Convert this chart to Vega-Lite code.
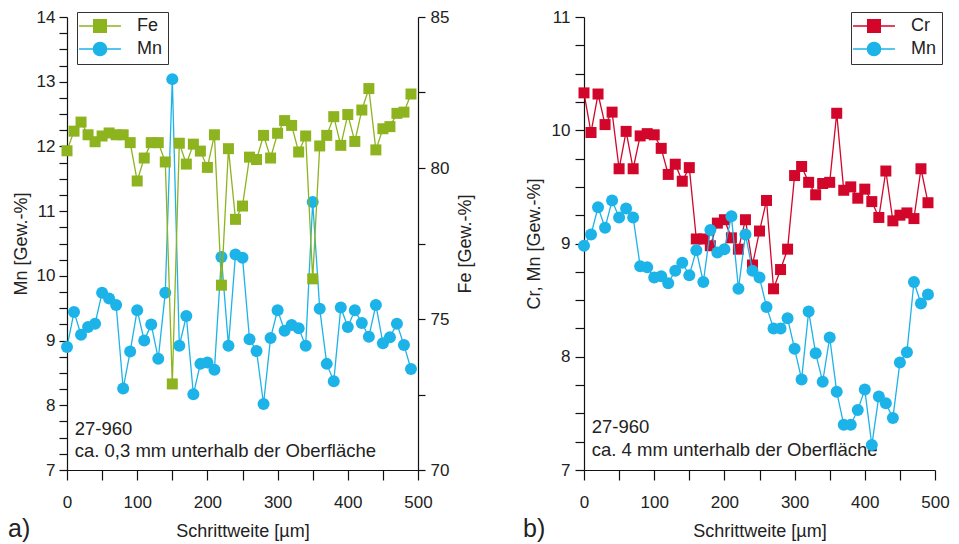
{
  "$schema": "https://vega.github.io/schema/vega-lite/v6.json",
  "padding": {"left": 8, "top": 8, "right": 5, "bottom": 5},
  "background": "white",
  "datasets": {
    "a": [
      {"x":0,"s":"Fe","v":80.57},{"x":10,"s":"Fe","v":81.22},{"x":20,"s":"Fe","v":81.52},{"x":30,"s":"Fe","v":81.10},{"x":40,"s":"Fe","v":80.87},
      {"x":50,"s":"Fe","v":81.06},{"x":60,"s":"Fe","v":81.16},{"x":70,"s":"Fe","v":81.10},{"x":80,"s":"Fe","v":81.10},{"x":90,"s":"Fe","v":80.84},
      {"x":100,"s":"Fe","v":79.57},{"x":110,"s":"Fe","v":80.33},{"x":120,"s":"Fe","v":80.84},{"x":130,"s":"Fe","v":80.84},{"x":140,"s":"Fe","v":80.20},
      {"x":150,"s":"Fe","v":72.85},{"x":160,"s":"Fe","v":80.82},{"x":170,"s":"Fe","v":80.13},{"x":180,"s":"Fe","v":80.79},{"x":190,"s":"Fe","v":80.56},
      {"x":200,"s":"Fe","v":80.02},{"x":210,"s":"Fe","v":81.10},{"x":220,"s":"Fe","v":76.12},{"x":230,"s":"Fe","v":80.64},{"x":240,"s":"Fe","v":78.30},
      {"x":250,"s":"Fe","v":78.74},{"x":260,"s":"Fe","v":80.36},{"x":270,"s":"Fe","v":80.28},{"x":280,"s":"Fe","v":81.08},{"x":290,"s":"Fe","v":80.33},
      {"x":300,"s":"Fe","v":81.15},{"x":310,"s":"Fe","v":81.57},{"x":320,"s":"Fe","v":81.41},{"x":330,"s":"Fe","v":80.53},{"x":340,"s":"Fe","v":81.06},
      {"x":350,"s":"Fe","v":76.33},{"x":360,"s":"Fe","v":80.73},{"x":370,"s":"Fe","v":81.08},{"x":380,"s":"Fe","v":81.70},{"x":390,"s":"Fe","v":80.75},
      {"x":400,"s":"Fe","v":81.77},{"x":410,"s":"Fe","v":80.88},{"x":420,"s":"Fe","v":81.92},{"x":430,"s":"Fe","v":82.63},{"x":440,"s":"Fe","v":80.60},
      {"x":450,"s":"Fe","v":81.30},{"x":460,"s":"Fe","v":81.37},{"x":470,"s":"Fe","v":81.81},{"x":480,"s":"Fe","v":81.85},{"x":490,"s":"Fe","v":82.45},
      {"x":0,"s":"Mn","v":8.90},{"x":10,"s":"Mn","v":9.44},{"x":20,"s":"Mn","v":9.09},{"x":30,"s":"Mn","v":9.21},{"x":40,"s":"Mn","v":9.26},
      {"x":50,"s":"Mn","v":9.74},{"x":60,"s":"Mn","v":9.65},{"x":70,"s":"Mn","v":9.55},{"x":80,"s":"Mn","v":8.26},{"x":90,"s":"Mn","v":8.83},
      {"x":100,"s":"Mn","v":9.47},{"x":110,"s":"Mn","v":9.00},{"x":120,"s":"Mn","v":9.25},{"x":130,"s":"Mn","v":8.72},{"x":140,"s":"Mn","v":9.74},
      {"x":150,"s":"Mn","v":13.04},{"x":160,"s":"Mn","v":8.92},{"x":170,"s":"Mn","v":9.38},{"x":180,"s":"Mn","v":8.17},{"x":190,"s":"Mn","v":8.64},
      {"x":200,"s":"Mn","v":8.66},{"x":210,"s":"Mn","v":8.55},{"x":220,"s":"Mn","v":10.29},{"x":230,"s":"Mn","v":8.92},{"x":240,"s":"Mn","v":10.33},
      {"x":250,"s":"Mn","v":10.28},{"x":260,"s":"Mn","v":9.02},{"x":270,"s":"Mn","v":8.84},{"x":280,"s":"Mn","v":8.02},{"x":290,"s":"Mn","v":9.04},
      {"x":300,"s":"Mn","v":9.47},{"x":310,"s":"Mn","v":9.15},{"x":320,"s":"Mn","v":9.24},{"x":330,"s":"Mn","v":9.19},{"x":340,"s":"Mn","v":8.92},
      {"x":350,"s":"Mn","v":11.14},{"x":360,"s":"Mn","v":9.49},{"x":370,"s":"Mn","v":8.64},{"x":380,"s":"Mn","v":8.37},{"x":390,"s":"Mn","v":9.51},
      {"x":400,"s":"Mn","v":9.21},{"x":410,"s":"Mn","v":9.47},{"x":420,"s":"Mn","v":9.27},{"x":430,"s":"Mn","v":9.06},{"x":440,"s":"Mn","v":9.55},
      {"x":450,"s":"Mn","v":8.96},{"x":460,"s":"Mn","v":9.05},{"x":470,"s":"Mn","v":9.26},{"x":480,"s":"Mn","v":8.93},{"x":490,"s":"Mn","v":8.56}
    ],
    "b": [
      {"x":0,"s":"Cr","v":10.33},{"x":10,"s":"Cr","v":9.98},{"x":20,"s":"Cr","v":10.32},{"x":30,"s":"Cr","v":10.05},{"x":40,"s":"Cr","v":10.16},
      {"x":50,"s":"Cr","v":9.66},{"x":60,"s":"Cr","v":9.99},{"x":70,"s":"Cr","v":9.66},{"x":80,"s":"Cr","v":9.95},{"x":90,"s":"Cr","v":9.97},
      {"x":100,"s":"Cr","v":9.96},{"x":110,"s":"Cr","v":9.84},{"x":120,"s":"Cr","v":9.61},{"x":130,"s":"Cr","v":9.70},{"x":140,"s":"Cr","v":9.55},
      {"x":150,"s":"Cr","v":9.67},{"x":160,"s":"Cr","v":9.04},{"x":170,"s":"Cr","v":9.04},{"x":180,"s":"Cr","v":8.98},{"x":190,"s":"Cr","v":9.18},
      {"x":200,"s":"Cr","v":9.21},{"x":210,"s":"Cr","v":9.05},{"x":220,"s":"Cr","v":8.95},{"x":230,"s":"Cr","v":9.21},{"x":240,"s":"Cr","v":8.81},
      {"x":250,"s":"Cr","v":9.11},{"x":260,"s":"Cr","v":9.38},{"x":270,"s":"Cr","v":8.60},{"x":280,"s":"Cr","v":8.77},{"x":290,"s":"Cr","v":8.95},
      {"x":300,"s":"Cr","v":9.60},{"x":310,"s":"Cr","v":9.68},{"x":320,"s":"Cr","v":9.54},{"x":330,"s":"Cr","v":9.43},{"x":340,"s":"Cr","v":9.53},
      {"x":350,"s":"Cr","v":9.54},{"x":360,"s":"Cr","v":10.15},{"x":370,"s":"Cr","v":9.47},{"x":380,"s":"Cr","v":9.50},{"x":390,"s":"Cr","v":9.40},
      {"x":400,"s":"Cr","v":9.48},{"x":410,"s":"Cr","v":9.37},{"x":420,"s":"Cr","v":9.23},{"x":430,"s":"Cr","v":9.64},{"x":440,"s":"Cr","v":9.20},
      {"x":450,"s":"Cr","v":9.25},{"x":460,"s":"Cr","v":9.27},{"x":470,"s":"Cr","v":9.22},{"x":480,"s":"Cr","v":9.66},{"x":490,"s":"Cr","v":9.36},
      {"x":0,"s":"Mn","v":8.98},{"x":10,"s":"Mn","v":9.08},{"x":20,"s":"Mn","v":9.32},{"x":30,"s":"Mn","v":9.14},{"x":40,"s":"Mn","v":9.38},
      {"x":50,"s":"Mn","v":9.23},{"x":60,"s":"Mn","v":9.31},{"x":70,"s":"Mn","v":9.23},{"x":80,"s":"Mn","v":8.80},{"x":90,"s":"Mn","v":8.79},
      {"x":100,"s":"Mn","v":8.70},{"x":110,"s":"Mn","v":8.71},{"x":120,"s":"Mn","v":8.65},{"x":130,"s":"Mn","v":8.76},{"x":140,"s":"Mn","v":8.83},
      {"x":150,"s":"Mn","v":8.72},{"x":160,"s":"Mn","v":8.94},{"x":170,"s":"Mn","v":8.66},{"x":180,"s":"Mn","v":9.12},{"x":190,"s":"Mn","v":8.92},
      {"x":200,"s":"Mn","v":8.95},{"x":210,"s":"Mn","v":9.24},{"x":220,"s":"Mn","v":8.60},{"x":230,"s":"Mn","v":9.08},{"x":240,"s":"Mn","v":8.76},
      {"x":250,"s":"Mn","v":8.70},{"x":260,"s":"Mn","v":8.44},{"x":270,"s":"Mn","v":8.25},{"x":280,"s":"Mn","v":8.25},{"x":290,"s":"Mn","v":8.34},
      {"x":300,"s":"Mn","v":8.07},{"x":310,"s":"Mn","v":7.80},{"x":320,"s":"Mn","v":8.40},{"x":330,"s":"Mn","v":8.03},{"x":340,"s":"Mn","v":7.78},
      {"x":350,"s":"Mn","v":8.17},{"x":360,"s":"Mn","v":7.69},{"x":370,"s":"Mn","v":7.40},{"x":380,"s":"Mn","v":7.40},{"x":390,"s":"Mn","v":7.53},
      {"x":400,"s":"Mn","v":7.71},{"x":410,"s":"Mn","v":7.22},{"x":420,"s":"Mn","v":7.65},{"x":430,"s":"Mn","v":7.59},{"x":440,"s":"Mn","v":7.46},
      {"x":450,"s":"Mn","v":7.95},{"x":460,"s":"Mn","v":8.04},{"x":470,"s":"Mn","v":8.66},{"x":480,"s":"Mn","v":8.47},{"x":490,"s":"Mn","v":8.55}
    ]
  },
  "hconcat": [
    {
      "width": 351,
      "height": 453,
      "data": {"name": "a"},
      "title": {"text": "a)", "orient": "bottom", "anchor": "start", "fontSize": 25, "fontWeight": "normal", "color": "#222", "offset": -23, "dx": -4},
      "encoding": {
        "x": {
          "field": "x", "type": "quantitative",
          "scale": {"domain": [0, 500], "nice": false, "zero": false},
          "axis": {
            "title": "Schrittweite [µm]",
            "values": [0,50,100,150,200,250,300,350,400,450,500],
            "labelExpr": "datum.value % 100 === 0 ? format(datum.value, 'd') : ''",
            "tickSize": 10, "labelPadding": 14, "titlePadding": 12,
            "encode": {"ticks": {"update": {"y2": {"signal": "datum.value % 100 === 0 ? 10 : 6"}}}}
          }
        }
      },
      "layer": [
        {
          "transform": [{"filter": "datum.s === 'Mn'"}],
          "encoding": {
            "y": {
              "field": "v", "type": "quantitative",
              "scale": {"domain": [7, 14], "nice": false, "zero": false},
              "axis": {
                "title": "Mn [Gew.-%]", "orient": "left",
                "values": [7,7.25,7.5,7.75,8,8.25,8.5,8.75,9,9.25,9.5,9.75,10,10.25,10.5,10.75,11,11.25,11.5,11.75,12,12.25,12.5,12.75,13,13.25,13.5,13.75,14],
                "labelExpr": "datum.value % 1 === 0 ? format(datum.value, 'd') : ''",
                "tickSize": 8, "labelPadding": 4, "titlePadding": 6,
                "encode": {"ticks": {"update": {"x2": {"signal": "datum.value % 1 === 0 ? -8 : -4"}}}}
              }
            },
            "color": {
              "field": "s", "type": "nominal",
              "scale": {"domain": ["Fe", "Mn"], "range": ["#8DB41E", "#1CB3E8"]},
              "legend": {
                "title": null, "orient": "none", "legendX": 10, "legendY": -5,
                "symbolSize": 256, "symbolOffset": 9, "symbolStrokeWidth": 1.5, "labelOffset": 28, "rowPadding": 3,
                "padding": 5, "strokeColor": "#333", "fillColor": "white", "labelFontSize": 18, "labelColor": "#222",
                "encode": {"symbols": {"update": {
                  "shape": {"signal": "datum.value === 'Fe' ? 'M-2.62,0H2.62M-0.78,-0.78H0.78V0.78H-0.78Z' : 'M-2.62,0H2.62M0.82,0A0.82,0.82,0,1,1,-0.82,0A0.82,0.82,0,1,1,0.82,0Z'"},
                  "fill": {"signal": "datum.value === 'Fe' ? '#8DB41E' : '#1CB3E8'"},
                  "stroke": {"signal": "datum.value === 'Fe' ? '#8DB41E' : '#1CB3E8'"},
                  "strokeWidth": {"value": 1.5},
                  "opacity": {"value": 1}
                }}}
              }
            }
          },
          "layer": [
            {"mark": {"type": "line", "strokeWidth": 1.3}},
            {"mark": {"type": "point", "shape": "circle", "filled": true, "size": 144, "opacity": 1}}
          ]
        },
        {
          "transform": [{"filter": "datum.s === 'Fe'"}],
          "encoding": {
            "y": {
              "field": "v", "type": "quantitative",
              "scale": {"domain": [70, 85], "nice": false, "zero": false},
              "axis": {
                "title": "Fe [Gew.-%]", "orient": "right", "titleAngle": -90,
                "values": [70,72.5,75,77.5,80,82.5,85],
                "labelExpr": "datum.value % 5 === 0 ? format(datum.value, 'd') : ''",
                "tickSize": 7, "labelPadding": 5, "titlePadding": 26,
                "encode": {"ticks": {"update": {"x2": {"signal": "datum.value % 5 === 0 ? 7 : 4"}}}}
              }
            },
            "color": {"field": "s", "type": "nominal"}
          },
          "layer": [
            {"mark": {"type": "line", "strokeWidth": 1.3}},
            {"mark": {"type": "point", "shape": "square", "filled": true, "size": 121, "opacity": 1}},
            {
              "transform": [{"filter": "datum.x === 0"}],
              "mark": {"type": "text", "align": "left", "baseline": "alphabetic", "fontSize": 18.5, "lineHeight": 22.5, "fill": "#222", "text": ["27-960", "ca. 0,3 mm unterhalb der Oberfläche"]},
              "encoding": {
                "x": {"datum": 11, "type": "quantitative"},
                "y": {"datum": 71.16, "type": "quantitative"},
                "color": {"value": "#222"}
              }
            }
          ]
        }
      ],
      "resolve": {"scale": {"y": "independent"}}
    },
    {
      "width": 351,
      "height": 453,
      "data": {"name": "b"},
      "title": {"text": "b)", "orient": "bottom", "anchor": "start", "fontSize": 25, "fontWeight": "normal", "color": "#222", "offset": -23, "dx": -2},
      "encoding": {
        "x": {
          "field": "x", "type": "quantitative",
          "scale": {"domain": [0, 500], "nice": false, "zero": false},
          "axis": {
            "title": "Schrittweite [µm]",
            "values": [0,50,100,150,200,250,300,350,400,450,500],
            "labelExpr": "datum.value % 100 === 0 ? format(datum.value, 'd') : ''",
            "tickSize": 10, "labelPadding": 14, "titlePadding": 12,
            "encode": {"ticks": {"update": {"y2": {"signal": "datum.value % 100 === 0 ? 10 : 6"}}}}
          }
        },
        "y": {
          "field": "v", "type": "quantitative",
          "scale": {"domain": [7, 11], "nice": false, "zero": false},
          "axis": {
            "title": "Cr, Mn [Gew.-%]", "orient": "left",
            "values": [7,7.25,7.5,7.75,8,8.25,8.5,8.75,9,9.25,9.5,9.75,10,10.25,10.5,10.75,11],
            "labelExpr": "datum.value % 1 === 0 ? format(datum.value, 'd') : ''",
            "tickSize": 9, "labelPadding": 5, "titlePadding": 8,
            "encode": {"ticks": {"update": {"x2": {"signal": "datum.value % 1 === 0 ? -9 : -5"}}}}
          }
        }
      },
      "layer": [
        {
          "transform": [{"filter": "datum.s === 'Cr'"}],
          "encoding": {
            "color": {
              "field": "s", "type": "nominal",
              "scale": {"domain": ["Cr", "Mn"], "range": ["#D2062A", "#1CB3E8"]},
              "legend": {
                "title": null, "orient": "none", "legendX": 267, "legendY": -5,
                "symbolSize": 256, "symbolOffset": 9, "symbolStrokeWidth": 1.5, "labelOffset": 28, "rowPadding": 3,
                "padding": 5, "strokeColor": "#333", "fillColor": "white", "labelFontSize": 18, "labelColor": "#222",
                "encode": {"symbols": {"update": {
                  "shape": {"signal": "datum.value === 'Cr' ? 'M-2.62,0H2.62M-0.78,-0.78H0.78V0.78H-0.78Z' : 'M-2.62,0H2.62M0.82,0A0.82,0.82,0,1,1,-0.82,0A0.82,0.82,0,1,1,0.82,0Z'"},
                  "fill": {"signal": "datum.value === 'Cr' ? '#D2062A' : '#1CB3E8'"},
                  "stroke": {"signal": "datum.value === 'Cr' ? '#D2062A' : '#1CB3E8'"},
                  "strokeWidth": {"value": 1.5},
                  "opacity": {"value": 1}
                }}}
              }
            }
          },
          "layer": [
            {"mark": {"type": "line", "strokeWidth": 1.3}},
            {"mark": {"type": "point", "shape": "square", "filled": true, "size": 121, "opacity": 1}},
            {
              "transform": [{"filter": "datum.x === 0"}],
              "mark": {"type": "text", "align": "left", "baseline": "alphabetic", "fontSize": 18.5, "lineHeight": 22.5, "fill": "#222", "text": ["27-960", "ca. 4 mm unterhalb der Oberfläche"]},
              "encoding": {
                "x": {"datum": 11, "type": "quantitative"},
                "y": {"datum": 7.324, "type": "quantitative"},
                "color": {"value": "#222"}
              }
            }
          ]
        },
        {
          "transform": [{"filter": "datum.s === 'Mn'"}],
          "encoding": {"color": {"field": "s", "type": "nominal"}},
          "layer": [
            {"mark": {"type": "line", "strokeWidth": 1.3}},
            {"mark": {"type": "point", "shape": "circle", "filled": true, "size": 144, "opacity": 1}}
          ]
        }
      ]
    }
  ],
  "spacing": 166,
  "bounds": "flush",
  "resolve": {"scale": {"color": "independent"}, "legend": {"color": "independent"}},
  "config": {
    "view": {"stroke": null},
    "font": "Liberation Sans",
    "axis": {
      "grid": false, "domainColor": "#111", "tickColor": "#111", "domainWidth": 1.2, "tickWidth": 1.2,
      "labelColor": "#222", "titleColor": "#222", "labelFontSize": 17, "titleFontSize": 18,
      "titleFontWeight": "normal", "labelFlush": false, "labelOverlap": false
    }
  }
}
